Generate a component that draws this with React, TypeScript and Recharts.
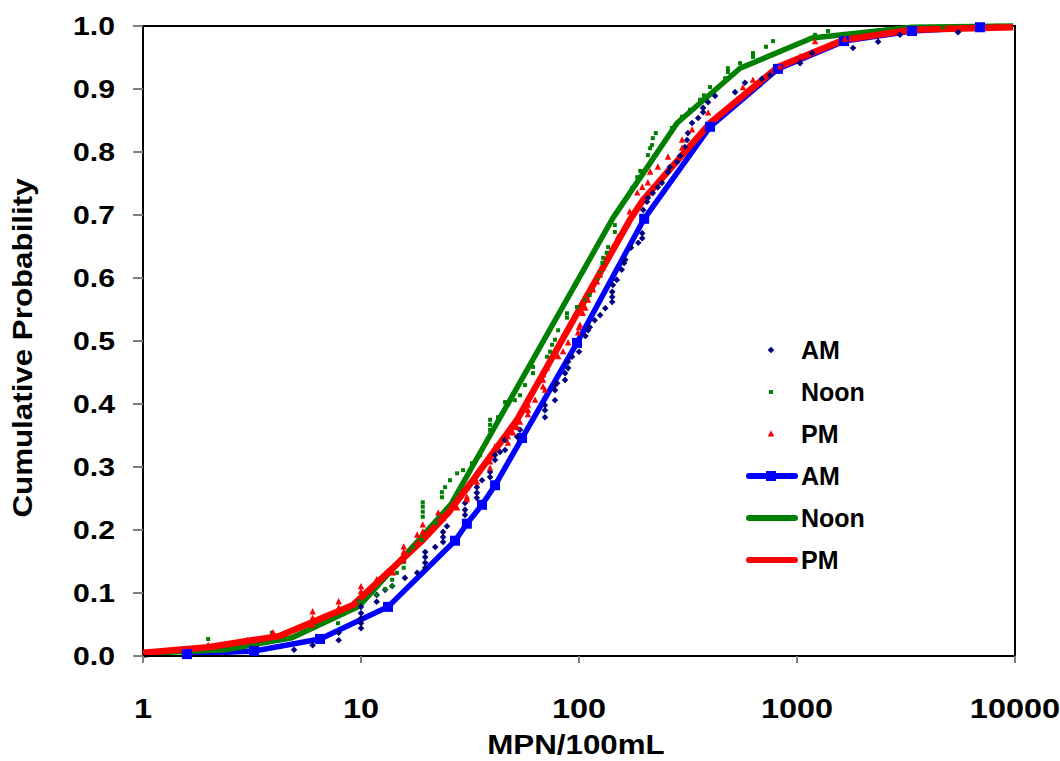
import React from 'react';
import {
  ComposedChart, Line, Scatter, XAxis, YAxis, Legend, Label, ReferenceArea,
} from 'recharts';

const FONT = '"Liberation Sans", Arial, sans-serif';

const xTicks = [1, 10, 100, 1000, 10000];
const yTicks = [0, 0.1, 0.2, 0.3, 0.4, 0.5, 0.6, 0.7, 0.8, 0.9, 1.0];

// Observed cumulative probabilities (MPN/100mL, probability)
const amScatter: [number, number][] = [
  [4.93, 0.010], [6.0, 0.017], [7.9, 0.025], [7.9, 0.037], [10, 0.044], [10, 0.052], [10, 0.060], [10, 0.068], [10, 0.078],
  [11.8, 0.086], [11.8, 0.097], [12.9, 0.105], [13.9, 0.111], [15.9, 0.124], [18.1, 0.132], [19.7, 0.140], [19.7, 0.148],
  [19.7, 0.157], [19.7, 0.165], [21.9, 0.173], [23.8, 0.181], [23.8, 0.189], [23.8, 0.197], [24.8, 0.206], [30, 0.224],
  [30, 0.232], [30, 0.243], [34, 0.251], [34, 0.259], [34, 0.268], [35.9, 0.279], [39.1, 0.284], [39.1, 0.292], [41.2, 0.311],
  [41.2, 0.319], [43.4, 0.324], [45.8, 0.327], [45.8, 0.343], [52, 0.348], [53.6, 0.359], [69.8, 0.379], [69.8, 0.390],
  [69.8, 0.398], [77.6, 0.406], [77.6, 0.422], [77.6, 0.430], [79.3, 0.433], [86.3, 0.438], [86.3, 0.449], [89.1, 0.457],
  [89.1, 0.467], [92.9, 0.475], [100, 0.483], [107, 0.508], [110, 0.517], [112, 0.522], [118, 0.533], [125, 0.541],
  [132, 0.552], [142, 0.562], [142, 0.570], [142, 0.578], [143, 0.589], [149, 0.597], [157, 0.613], [161, 0.624],
  [163, 0.629], [173, 0.648], [187, 0.656], [195, 0.663], [195, 0.671], [197, 0.708], [205, 0.721], [207, 0.727],
  [218, 0.735], [230, 0.744], [240, 0.751], [256, 0.768], [261, 0.776], [282, 0.784], [291, 0.794], [306, 0.808],
  [313, 0.819], [316, 0.830], [330, 0.846], [352, 0.854], [371, 0.863], [371, 0.870], [391, 0.879], [421, 0.889],
  [520, 0.895], [577, 0.910], [690, 0.916], [752, 0.922], [1033, 0.941], [1033, 0.949], [1172, 0.957], [1807, 0.965],
  [2355, 0.975], [2966, 0.986], [5478, 0.990],
];

const noonScatter: [number, number][] = [
  [1.99, 0.016], [1.99, 0.027], [3.9, 0.037], [7.84, 0.052], [9.8, 0.087], [11.8, 0.097], [12.9, 0.106], [13.9, 0.111],
  [13.9, 0.121], [14.6, 0.132], [15.7, 0.140], [15.7, 0.149], [16.6, 0.167], [17.3, 0.173], [19.0, 0.184], [19.2, 0.221],
  [19.2, 0.229], [19.2, 0.237], [19.2, 0.244], [22.1, 0.211], [23.5, 0.252], [23.5, 0.260], [24.3, 0.268], [25.6, 0.279],
  [27.6, 0.290], [29.4, 0.295], [32.3, 0.306], [35.2, 0.319], [39.1, 0.351], [39.1, 0.359], [39.1, 0.367], [39.1, 0.375],
  [42.5, 0.379], [45.8, 0.403], [50.8, 0.406], [53.6, 0.414], [56.5, 0.430], [61.5, 0.449], [61.5, 0.459], [71.3, 0.475],
  [73.6, 0.483], [75.2, 0.494], [77.6, 0.502], [80.2, 0.517], [88.1, 0.537], [88.1, 0.544], [97.9, 0.554], [107, 0.565],
  [112, 0.573], [116, 0.581], [121, 0.597], [125, 0.608], [128, 0.624], [129, 0.632], [134, 0.640], [136, 0.649],
  [146, 0.673], [146, 0.684], [175, 0.743], [185, 0.760], [191, 0.770], [207, 0.795], [212, 0.806], [216, 0.811],
  [218, 0.822], [225, 0.830], [267, 0.838], [297, 0.856], [323, 0.867], [359, 0.883], [374, 0.890], [399, 0.903],
  [468, 0.917], [482, 0.927], [482, 0.933], [548, 0.941], [628, 0.951], [628, 0.957], [721, 0.967], [776, 0.976],
  [1210, 0.986], [1387, 0.992], [4677, 0.998],
];

const pmScatter: [number, number][] = [
  [1.0, 0.006], [1.99, 0.017], [3.0, 0.025], [3.95, 0.037], [6.0, 0.049], [6.0, 0.060], [6.0, 0.070], [7.9, 0.076],
  [7.9, 0.086], [10, 0.102], [10, 0.110], [11.8, 0.121], [14.0, 0.132], [15.7, 0.152], [15.7, 0.165], [15.7, 0.173],
  [18.1, 0.192], [19.2, 0.197], [19.2, 0.208], [22.6, 0.227], [23.8, 0.219], [27.6, 0.235], [30.6, 0.248], [30.6, 0.252],
  [30.6, 0.267], [34.0, 0.276], [39.1, 0.298], [39.1, 0.308], [39.1, 0.319], [41.2, 0.332], [47.2, 0.338], [47.2, 0.348],
  [49.8, 0.354], [52.0, 0.363], [53.6, 0.371], [58.3, 0.383], [58.3, 0.390], [58.3, 0.398], [62.9, 0.406], [68.4, 0.427],
  [68.4, 0.438], [68.4, 0.446], [69.8, 0.422], [71.3, 0.457], [80.2, 0.475], [84.5, 0.483], [89.1, 0.497], [98.9, 0.513],
  [100, 0.521], [101, 0.525], [104, 0.544], [107, 0.552], [110, 0.565], [116, 0.581], [121, 0.594], [125, 0.605],
  [129, 0.616], [139, 0.640], [143, 0.649], [149, 0.657], [151, 0.665], [159, 0.676], [168, 0.687], [171, 0.705],
  [185, 0.735], [195, 0.744], [207, 0.751], [212, 0.768], [230, 0.776], [256, 0.792], [297, 0.806], [297, 0.819],
  [330, 0.835], [391, 0.862], [531, 0.883], [565, 0.902], [628, 0.914], [836, 0.935], [1033, 0.951], [1210, 0.975],
  [1660, 0.979], [8266, 0.999],
];

// Fitted curves
const amLine: [number, number][] = [
  [1.59, 0.003], [3.23, 0.008], [6.49, 0.027], [13.3, 0.078], [27.0, 0.183], [30.6, 0.21], [35.9, 0.24], [41.2, 0.271],
  [54.8, 0.346], [97.9, 0.497], [199, 0.694], [399, 0.84], [818, 0.932], [1644, 0.976], [3370, 0.992], [6908, 0.998],
];
const noonLine: [number, number][] = [
  [1, 0.001], [1.16, 0.005], [2.38, 0.01], [4.82, 0.029], [9.8, 0.079], [25.9, 0.241], [143, 0.695], [282, 0.846],
  [548, 0.933], [1172, 0.981], [3370, 0.998], [9795, 1.0],
];
const pmLine: [number, number][] = [
  [1, 0.005], [1.99, 0.014], [4.25, 0.032], [9.2, 0.081], [19.2, 0.184], [25.1, 0.227], [32.6, 0.279], [52, 0.375],
  [171, 0.692], [197, 0.724], [399, 0.846], [818, 0.935], [1644, 0.978], [3370, 0.994], [9795, 0.998],
];

const toPts = (a: [number, number][]) => a.map(([x, y]) => ({ x, y }));

const NAVY = '#000080';
const GREEN = '#008000';
const RED = '#FF0000';
const BLUE = '#0000FF';

const Diamond = (p: any) => {
  const { cx, cy } = p;
  if (cx == null || cy == null) return null;
  const r = 3.3;
  return <polygon points={`${cx},${cy - r} ${cx + r},${cy} ${cx},${cy + r} ${cx - r},${cy}`} fill={NAVY} />;
};
const SmallSquare = (p: any) => {
  const { cx, cy } = p;
  if (cx == null || cy == null) return null;
  return <rect x={cx - 2} y={cy - 2} width={4} height={4} fill={GREEN} />;
};
const Triangle = (p: any) => {
  const { cx, cy } = p;
  if (cx == null || cy == null) return null;
  return <polygon points={`${cx},${cy - 3.8} ${cx + 3.2},${cy + 2.6} ${cx - 3.2},${cy + 2.6}`} fill={RED} />;
};
const BigSquare = (p: any) => {
  const { cx, cy } = p;
  if (cx == null || cy == null) return null;
  return <rect x={cx - 5} y={cy - 5} width={10} height={10} fill={BLUE} />;
};

const YTick = (p: any) => {
  const { x, y, payload } = p;
  return (
    <text transform={`translate(${x},${y}) scale(1.16,1)`} textAnchor="end" dy="0.36em"
      fontSize={26} fontWeight="bold" fontFamily={FONT} fill="#000">
      {Number(payload.value).toFixed(1)}
    </text>
  );
};
const XTick = (p: any) => {
  const { x, y, payload } = p;
  return (
    <text transform={`translate(${x},${y}) scale(1.16,1)`} textAnchor="middle" y={53}
      fontSize={28} fontWeight="bold" fontFamily={FONT} fill="#000">
      {String(payload.value)}
    </text>
  );
};

const legendItems = [
  { name: 'AM', kind: 'diamond' },
  { name: 'Noon', kind: 'dot' },
  { name: 'PM', kind: 'triangle' },
  { name: 'AM', kind: 'amline' },
  { name: 'Noon', kind: 'noonline' },
  { name: 'PM', kind: 'pmline' },
];

const LegendSymbol = ({ kind }: { kind: string }) => {
  const cx = 26, cy = 10;
  switch (kind) {
    case 'diamond':
      return <Diamond cx={cx} cy={cy} />;
    case 'dot':
      return <SmallSquare cx={cx} cy={cy} />;
    case 'triangle':
      return <Triangle cx={cx} cy={cy} />;
    case 'amline':
      return (
        <g>
          <line x1={4} x2={50} y1={cy} y2={cy} stroke={BLUE} strokeWidth={6} strokeLinecap="round" />
          <rect x={cx - 5} y={cy - 5} width={10} height={10} fill={BLUE} />
        </g>
      );
    case 'noonline':
      return <line x1={4} x2={50} y1={cy} y2={cy} stroke={GREEN} strokeWidth={6} strokeLinecap="round" />;
    default:
      return <line x1={4} x2={50} y1={cy} y2={cy} stroke={RED} strokeWidth={6} strokeLinecap="round" />;
  }
};

const renderLegend = () => (
  <div style={{ fontFamily: FONT, fontWeight: 'bold', fontSize: 25, color: '#000' }}>
    {legendItems.map((it, i) => (
      <div key={i} style={{ display: 'flex', alignItems: 'center', height: 42 }}>
        <svg width={56} height={20} style={{ display: 'block' }}>
          <LegendSymbol kind={it.kind} />
        </svg>
        <span style={{ lineHeight: '28px' }}>{it.name}</span>
      </div>
    ))}
  </div>
);

export default function App() {
  return (
    <div style={{ position: 'absolute', left: 0, top: 0, width: 1060, height: 761, background: '#fff' }}>
      <ComposedChart width={1060} height={761} margin={{ top: 26, right: 45, bottom: 0, left: 0 }}>
        <ReferenceArea x1={1} x2={10000} y1={0} y2={1} fill="none" fillOpacity={0}
          stroke="#000" strokeWidth={2} ifOverflow="visible" />
        <XAxis
          dataKey="x" type="number" scale="log" domain={[1, 10000]} ticks={xTicks}
          allowDataOverflow height={105} tickSize={7} tickMargin={2}
          axisLine={{ stroke: '#000', strokeWidth: 2 }} tickLine={{ stroke: '#808080', strokeWidth: 2 }}
          tick={<XTick />} interval={0}
        >
          <Label content={(props: any) => {
            const vb = props.viewBox || { x: 143, y: 656, width: 872, height: 105 };
            return (
              <text transform={`translate(${vb.x + vb.width / 2 - 3},${vb.y + 98}) scale(1.16,1)`}
                textAnchor="middle" fontSize={27} fontWeight="bold" fontFamily={FONT} fill="#000">
                MPN/100mL
              </text>
            );
          }} />
        </XAxis>
        <YAxis
          dataKey="y" type="number" domain={[0, 1]} ticks={yTicks} width={143}
          tickSize={10} tickMargin={18} interval={0}
          axisLine={{ stroke: '#000', strokeWidth: 2 }} tickLine={{ stroke: '#808080', strokeWidth: 2 }}
          tick={<YTick />}
        >
          <Label content={(props: any) => {
            const vb = props.viewBox || { x: 0, y: 26, width: 143, height: 630 };
            return (
              <text transform={`translate(${vb.x + 32},${vb.y + vb.height / 2 + 7}) rotate(-90) scale(1.16,1)`}
                textAnchor="middle" fontSize={27} fontWeight="bold" fontFamily={FONT} fill="#000">
                Cumulative Probability
              </text>
            );
          }} />
        </YAxis>
        <Legend layout="vertical" align="center" verticalAlign="middle" content={renderLegend}
          wrapperStyle={{ left: 745, top: 329, width: 160 }} />

        <Line data={toPts(amLine)} dataKey="y" stroke={BLUE} strokeWidth={5.5} dot={false} activeDot={false}
          isAnimationActive={false} strokeLinejoin="round" legendType="none" />
        <Line data={toPts(noonLine)} dataKey="y" stroke={GREEN} strokeWidth={5.5} dot={false} activeDot={false}
          isAnimationActive={false} strokeLinejoin="round" legendType="none" />
        <Line data={toPts(pmLine)} dataKey="y" stroke={RED} strokeWidth={6.5} dot={false} activeDot={false}
          isAnimationActive={false} strokeLinejoin="round" legendType="none" />
        <Scatter data={toPts(amLine)} dataKey="y" shape={BigSquare} isAnimationActive={false} legendType="none" />
        <Scatter data={toPts(amScatter)} dataKey="y" shape={Diamond} isAnimationActive={false} legendType="none" />
        <Scatter data={toPts(noonScatter)} dataKey="y" shape={SmallSquare} isAnimationActive={false} legendType="none" />
        <Scatter data={toPts(pmScatter)} dataKey="y" shape={Triangle} isAnimationActive={false} legendType="none" />
      </ComposedChart>
    </div>
  );
}
